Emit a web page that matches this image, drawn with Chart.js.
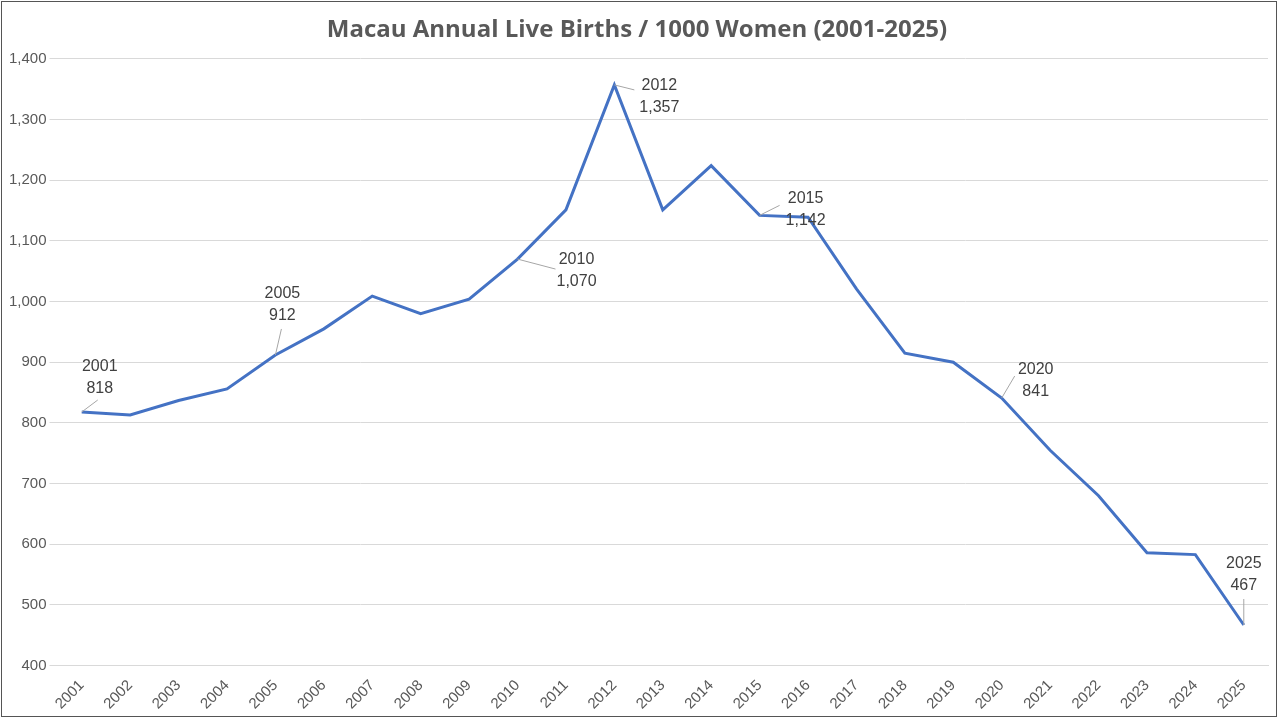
<!DOCTYPE html>
<html>
<head>
<meta charset="utf-8">
<script src="https://cdn.jsdelivr.net/npm/chart.js@4.4.1/dist/chart.umd.min.js"></script>
<style>
  html, body { margin: 0; padding: 0; background: #fff; }
  .wrap { position: absolute; left: 1px; top: 1px; width: 1276px; height: 716px; border: 1px solid #555; box-sizing: border-box; }
</style>
</head>
<body>
<div class="wrap"><canvas id="myChart"></canvas></div>
<script>
// data
const years = ["2001", "2002", "2003", "2004", "2005", "2006", "2007", "2008", "2009", "2010", "2011", "2012", "2013",
    "2014", "2015", "2016", "2017", "2018", "2019", "2020", "2021", "2022", "2023", "2024", "2025"];
const births = [818, 813, 837, 856, 912, 955, 1009, 980, 1004, 1070, 1151, 1357, 1151,
    1224, 1142, 1139, 1021, 915, 900, 841, 755, 680, 586, 583, 467];
const labelled = ["2001", "2005", "2010", "2012", "2015", "2020", "2025"];

// label placement: text centre offset + leader end offset (pixels from point)
const labelPos = {
    "2001": { dx: 18, dy: -34, lx: 16, ly: -12 },
    "2005": { dx: 7, dy: -50, lx: 6, ly: -26 },
    "2010": { dx: 59, dy: 12, lx: 38, ly: 10 },
    "2012": { dx: 45, dy: 12, lx: 20, ly: 5 },
    "2015": { dx: 46, dy: -6, lx: 20, ly: -10 },
    "2020": { dx: 34, dy: -17, lx: 13, ly: -22 },
    "2025": { dx: 0, dy: -50, lx: 0, ly: -26 },
};

const pointLabels = {
    id: "pointLabels",
    afterDatasetsDraw(chart) {
        const ctx = chart.ctx;
        const meta = chart.getDatasetMeta(0);
        ctx.save();
        ctx.font = "16px 'Liberation Sans', Arial, sans-serif";
        ctx.textAlign = "center";
        ctx.textBaseline = "middle";
        labelled.forEach((yr) => {
            const i = years.indexOf(yr);
            const pt = meta.data[i];
            const p = labelPos[yr];
            if (p.lx || p.ly) {
                ctx.strokeStyle = "#a6a6a6";
                ctx.lineWidth = 1;
                ctx.beginPath();
                ctx.moveTo(pt.x, pt.y);
                ctx.lineTo(pt.x + p.lx, pt.y + p.ly);
                ctx.stroke();
            }
            ctx.fillStyle = "#404040";
            ctx.fillText(yr, pt.x + p.dx, pt.y + p.dy - 11);
            ctx.fillText(births[i].toLocaleString("en-US"), pt.x + p.dx, pt.y + p.dy + 11);
        });
        ctx.restore();
    },
};

const config = {
    type: "line",
    data: {
        labels: years,
        datasets: [{
            data: births,
            borderColor: "#4472c4",
            borderWidth: 3,
            pointRadius: 0,
            tension: 0,
        }],
    },
    options: {
        responsive: true,
        maintainAspectRatio: false,
        animation: false,
        layout: { padding: { left: 4, right: 8, top: 4, bottom: 0 } },
        plugins: {
            legend: { display: false },
            tooltip: { enabled: false },
            title: {
                display: true,
                text: "Macau Annual Live Births / 1000 Women (2001-2025)",
                color: "#595959",
                font: { family: "'Open Sans', sans-serif", size: 24, weight: "bold" },
                padding: { top: 10, bottom: 14 },
            },
        },
        scales: {
            x: {
                offset: true,
                grid: { display: false },
                border: { color: "#d9d9d9" },
                ticks: {
                    color: "#595959",
                    font: { family: "'Liberation Sans', Arial, sans-serif", size: 15 },
                    maxRotation: 45,
                    minRotation: 45,
                    autoSkip: false,
                },
            },
            y: {
                min: 400,
                max: 1400,
                grid: { color: "#d9d9d9" },
                border: { display: false },
                ticks: {
                    stepSize: 100,
                    color: "#595959",
                    font: { family: "'Liberation Sans', Arial, sans-serif", size: 15 },
                    callback: (v) => v.toLocaleString("en-US"),
                },
            },
        },
    },
    plugins: [pointLabels],
};

const myChart = new Chart(document.getElementById("myChart"), config);
</script>
</body>
</html>
